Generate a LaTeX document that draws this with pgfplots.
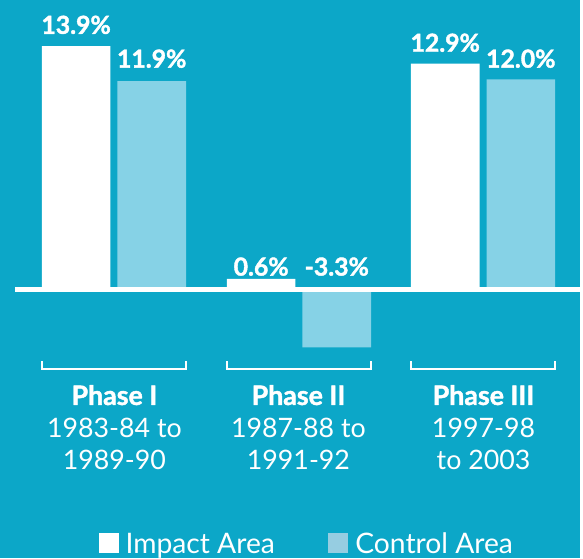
\documentclass[border=0pt]{standalone}
\usepackage{pgfplots}
\pgfplotsset{compat=1.18}
\usepackage{fontspec}
\setmainfont{Lato}
\newfontfamily\heavy[BoldFeatures={FakeBold=1.6}]{Lato}
\definecolor{bg}{RGB}{12,167,200}
\definecolor{lb}{RGB}{134,210,230}
\definecolor{lg}{RGB}{150,205,225}
\newcommand\Y[1]{{(291-#1)/17.6}}
\newcommand\brk[2]{\draw[white,line width=2bp] (axis cs:#1,\Y{363}) -- (axis cs:#1,\Y{371}) -- (axis cs:#2,\Y{371}) -- (axis cs:#2,\Y{363});}
\begin{document}
\begin{tikzpicture}[x=1bp,y=1bp]
\fill[bg] (0,0) rectangle (583,561);
\begin{axis}[at={(0,0)},anchor=south west,scale only axis, width=583bp, height=561bp,
  xmin=0, xmax=583, ymin=-15.3409, ymax=16.5341, hide axis, clip=false,
  ybar, bar width=69, bar shift=0pt]
\addplot[fill=white,draw=none] coordinates {(76.5,13.9) (262.5,0.6) (447.5,12.9)};
\addplot[fill=lb,draw=none] coordinates {(152.5,11.9) (338.5,-3.3) (523.5,12.0)};
\draw[white, line width=6bp] (axis cs:15,0) -- (axis cs:583,0);
\brk{42}{187}
\brk{228}{373}
\brk{413}{558}
\node[white, font=\heavy\bfseries\fontsize{25}{28}\selectfont, anchor=base, inner sep=0pt] at (axis cs:76.5,\Y{34}) {13.9\%};
\node[white, font=\heavy\bfseries\fontsize{25}{28}\selectfont, anchor=base, inner sep=0pt] at (axis cs:152.5,\Y{68}) {11.9\%};
\node[white, font=\heavy\bfseries\fontsize{25}{28}\selectfont, anchor=base, inner sep=0pt] at (axis cs:262.5,\Y{277}) {0.6\%};
\node[white, font=\heavy\bfseries\fontsize{25}{28}\selectfont, anchor=base, inner sep=0pt] at (axis cs:338.5,\Y{277}) {-3.3\%};
\node[white, font=\heavy\bfseries\fontsize{25}{28}\selectfont, anchor=base, inner sep=0pt] at (axis cs:447.5,\Y{52}) {12.9\%};
\node[white, font=\heavy\bfseries\fontsize{25}{28}\selectfont, anchor=base, inner sep=0pt] at (axis cs:523.5,\Y{68}) {12.0\%};
\node[white, font=\heavy\bfseries\fontsize{27}{30}\selectfont, anchor=base, inner sep=0pt] at (axis cs:115,\Y{407}) {Phase I};
\node[white, font=\fontsize{27}{30}\selectfont, anchor=base, inner sep=0pt] at (axis cs:115,\Y{440}) {1983-84 to};
\node[white, font=\fontsize{27}{30}\selectfont, anchor=base, inner sep=0pt] at (axis cs:115,\Y{472}) {1989-90};
\node[white, font=\heavy\bfseries\fontsize{27}{30}\selectfont, anchor=base, inner sep=0pt] at (axis cs:300,\Y{407}) {Phase II};
\node[white, font=\fontsize{27}{30}\selectfont, anchor=base, inner sep=0pt] at (axis cs:300,\Y{440}) {1987-88 to};
\node[white, font=\fontsize{27}{30}\selectfont, anchor=base, inner sep=0pt] at (axis cs:300,\Y{472}) {1991-92};
\node[white, font=\heavy\bfseries\fontsize{27}{30}\selectfont, anchor=base, inner sep=0pt] at (axis cs:486,\Y{407}) {Phase III};
\node[white, font=\fontsize{27}{30}\selectfont, anchor=base, inner sep=0pt] at (axis cs:486,\Y{440}) {1997-98};
\node[white, font=\fontsize{27}{30}\selectfont, anchor=base, inner sep=0pt] at (axis cs:486,\Y{472}) {to 2003};
\fill[white] (axis cs:100,\Y{536}) rectangle (axis cs:120,\Y{556});
\fill[lg] (axis cs:330,\Y{536}) rectangle (axis cs:350,\Y{556});
\node[white, font=\fontsize{28.5}{30}\selectfont, anchor=base west, inner sep=0pt] at (axis cs:126,\Y{556}) {Impact Area};
\node[white, font=\fontsize{28.5}{30}\selectfont, anchor=base west, inner sep=0pt] at (axis cs:357,\Y{556}) {Control Area};
\end{axis}
\end{tikzpicture}
\end{document}
